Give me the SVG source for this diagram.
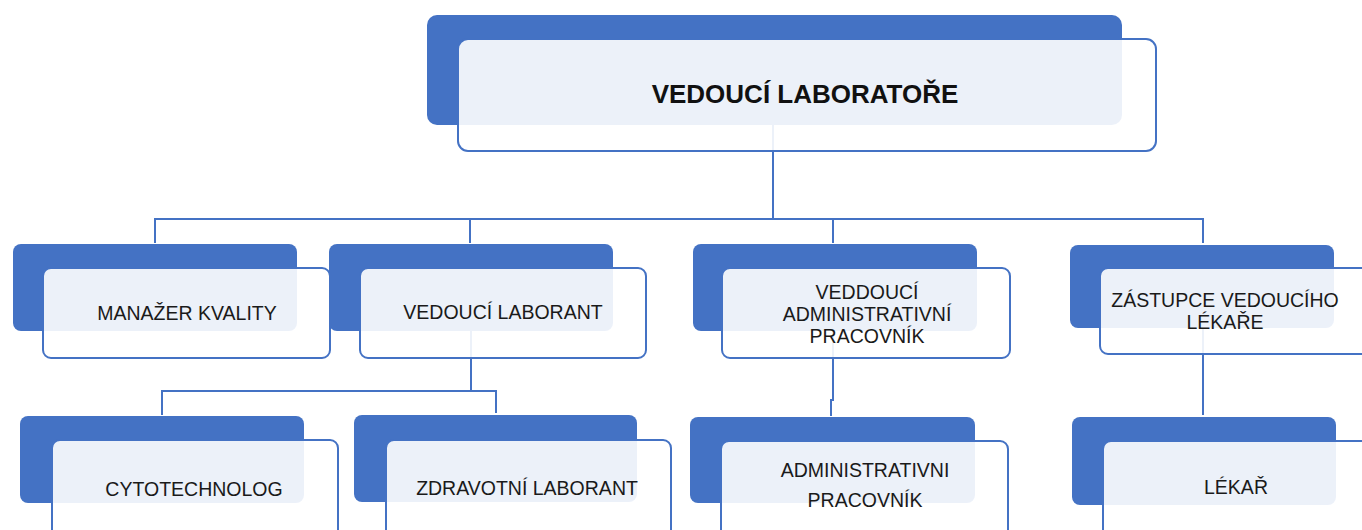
<svg xmlns="http://www.w3.org/2000/svg" width="1362" height="530" viewBox="0 0 1362 530">
<defs>
<style>
.back{fill:#4472C4;}
.front{fill:#FFFFFF;fill-opacity:0.9;stroke:#4472C4;stroke-width:2;}
.lbl{font-family:"Liberation Sans",Arial,sans-serif;font-size:19.5px;fill:#1a1a1a;text-anchor:middle;}
.title{font-family:"Liberation Sans",Arial,sans-serif;font-size:26px;font-weight:bold;fill:#111;text-anchor:middle;}
.con{fill:none;stroke:#4472C4;stroke-width:2;}
</style>
</defs>
<rect width="1362" height="530" fill="#FFFFFF"/>
<g id="connectors">
<path class="con" d="M773,125 V219"/>
<path class="con" d="M155,243 V219 H1203 V243"/>
<path class="con" d="M470,219 V243"/>
<path class="con" d="M833,219 V243"/>
<path class="con" d="M471,331 V391"/>
<path class="con" d="M162,415 V391 H496 V413"/>
<path class="con" d="M833,331 V400 H831 V416"/>
<path class="con" d="M1203,328 V415"/>
</g>
<g id="n-vedouci-laboratore">
<rect class="back" x="427" y="15" width="695" height="110" rx="10"/>
<rect class="front" x="458" y="39" width="698" height="112" rx="10"/>
<text class="title" x="805" y="103">VEDOUCÍ LABORATOŘE</text>
</g>
<g id="n-manazer-kvality">
<rect class="back" x="13" y="244" width="284" height="87" rx="8"/>
<rect class="front" x="43" y="268" width="287" height="90" rx="8"/>
<text class="lbl" x="187" y="320">MANAŽER KVALITY</text>
</g>
<g id="n-vedouci-laborant">
<rect class="back" x="329" y="244" width="284" height="87" rx="8"/>
<rect class="front" x="360" y="268" width="286" height="90" rx="8"/>
<text class="lbl" x="503" y="319">VEDOUCÍ LABORANT</text>
</g>
<g id="n-veddouci-administrativni">
<rect class="back" x="693" y="244" width="284" height="87" rx="8"/>
<rect class="front" x="722" y="268" width="288" height="90" rx="8"/>
<text class="lbl" x="867" y="299">VEDDOUCÍ</text>
<text class="lbl" x="867" y="321">ADMINISTRATIVNÍ</text>
<text class="lbl" x="867" y="343">PRACOVNÍK</text>
</g>
<g id="n-zastupce">
<rect class="back" x="1070" y="245" width="264" height="83" rx="8"/>
<rect class="front" x="1100" y="268" width="270" height="86" rx="8"/>
<text class="lbl" x="1225" y="307">ZÁSTUPCE VEDOUCÍHO</text>
<text class="lbl" x="1225" y="329">LÉKAŘE</text>
</g>
<g id="n-cytotechnolog">
<rect class="back" x="20" y="416" width="284" height="87" rx="8"/>
<rect class="front" x="52" y="440" width="286" height="100" rx="8"/>
<text class="lbl" x="194" y="496">CYTOTECHNOLOG</text>
</g>
<g id="n-zdravotni-laborant">
<rect class="back" x="354" y="415" width="283" height="87" rx="8"/>
<rect class="front" x="386" y="440" width="285" height="100" rx="8"/>
<text class="lbl" x="527" y="495">ZDRAVOTNÍ LABORANT</text>
</g>
<g id="n-administrativni-pracovnik">
<rect class="back" x="690" y="417" width="285" height="86" rx="8"/>
<rect class="front" x="721" y="441" width="287" height="100" rx="8"/>
<text class="lbl" x="865" y="477">ADMINISTRATIVNI</text>
<text class="lbl" x="865" y="507">PRACOVNÍK</text>
</g>
<g id="n-lekar">
<rect class="back" x="1072" y="417" width="264" height="88" rx="8"/>
<rect class="front" x="1103" y="441" width="270" height="100" rx="8"/>
<text class="lbl" x="1236" y="494">LÉKAŘ</text>
</g>
</svg>
